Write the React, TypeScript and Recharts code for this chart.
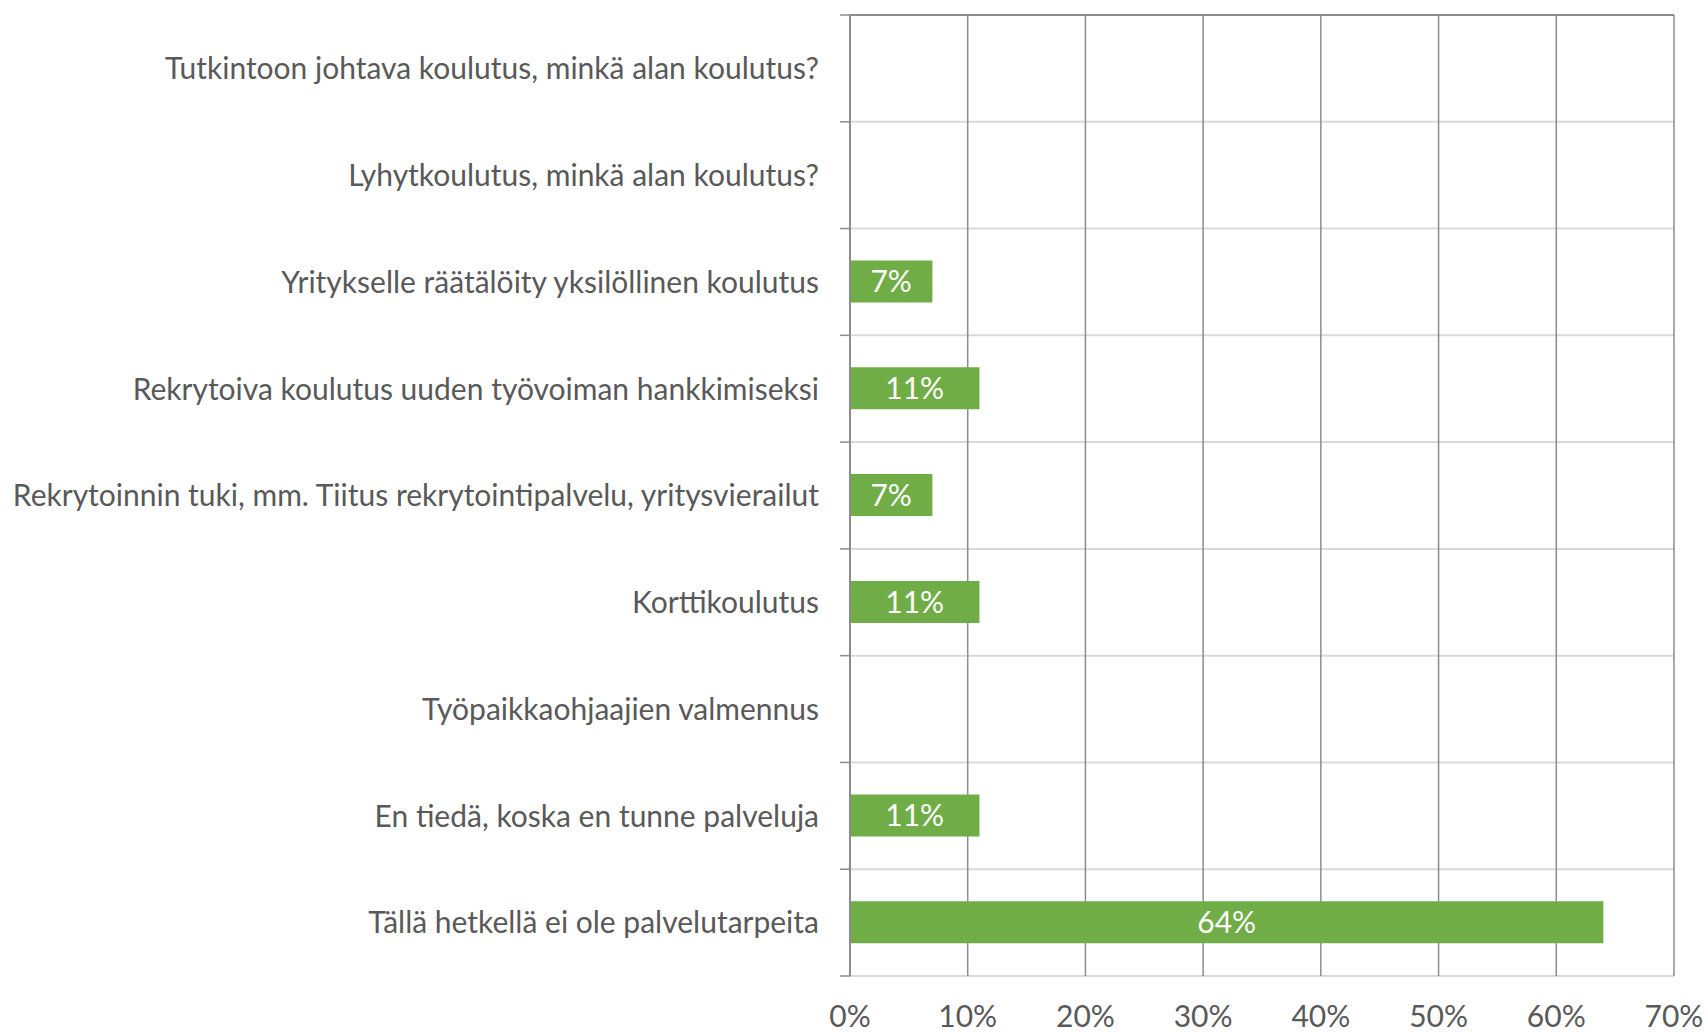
import React from 'react';
import {
  BarChart,
  Bar,
  XAxis,
  YAxis,
  CartesianGrid,
  LabelList,
} from 'recharts';

const categories = [
  'Tutkintoon johtava koulutus, minkä alan koulutus?',
  'Lyhytkoulutus, minkä alan koulutus?',
  'Yritykselle räätälöity yksilöllinen koulutus',
  'Rekrytoiva koulutus uuden työvoiman hankkimiseksi',
  'Rekrytoinnin tuki, mm. Tiitus rekrytointipalvelu, yritysvierailut',
  'Korttikoulutus',
  'Työpaikkaohjaajien valmennus',
  'En tiedä, koska en tunne palveluja',
  'Tällä hetkellä ei ole palvelutarpeita',
];

const shares = [0, 0, 7, 11, 7, 11, 0, 11, 64];

const percentTicks = [0, 10, 20, 30, 40, 50, 60, 70];

const data = categories.map((name, i) => ({ name, value: shares[i] }));

const W = 1708;
const H = 1032;
const MARGIN = { top: 6, right: 34, bottom: 6, left: 0 };
const TOP_AXIS_H = 9;
const BOTTOM_AXIS_H = 50;
const PLOT_TOP = MARGIN.top + TOP_AXIS_H;
const PLOT_H = H - MARGIN.top - MARGIN.bottom - TOP_AXIS_H - BOTTOM_AXIS_H;
const BAND = PLOT_H / categories.length;

const FONT = 'Lato, "Open Sans", sans-serif';
const FONT_SIZE = 30;
const TEXT = '#595959';
const DARK_LINE = '#8c8c8c';
const LIGHT_LINE = '#d9d9d9';

// category label + small tick mark at the band boundaries
const CategoryTick = ({ x, y, payload, index }: any) => (
  <g>
    <line x1={x - 10} x2={x} y1={y - BAND / 2} y2={y - BAND / 2} stroke={DARK_LINE} strokeWidth={1.5} />
    {index === categories.length - 1 && (
      <line x1={x - 10} x2={x} y1={y + BAND / 2} y2={y + BAND / 2} stroke={DARK_LINE} strokeWidth={1.5} />
    )}
    <text
      x={x - 31}
      y={y}
      dy="0.36em"
      textAnchor="end"
      fill={TEXT}
      fontSize={FONT_SIZE}
      fontFamily={FONT}
    >
      {payload.value}
    </text>
  </g>
);

export default function App() {
  return (
    <div style={{ position: 'absolute', left: 0, top: 0, background: '#fff' }}>
      <BarChart
        width={W}
        height={H}
        data={data}
        layout="vertical"
        margin={MARGIN}
        barSize={42}
      >
        <CartesianGrid
          stroke={LIGHT_LINE}
          strokeWidth={2}
          horizontalCoordinatesGenerator={() =>
            Array.from({ length: categories.length + 1 }, (_, i) => PLOT_TOP + i * BAND)
          }
          vertical={false}
        />
        <CartesianGrid
          stroke={DARK_LINE}
          strokeWidth={1.5}
          horizontal={false}
        />
        <XAxis
          type="number"
          domain={[0, 70]}
          ticks={percentTicks}
          tickFormatter={(v) => `${v}%`}
          axisLine={false}
          tickLine={false}
          tickSize={0}
          tickMargin={30}
          height={BOTTOM_AXIS_H}
          tick={{ fill: TEXT, fontSize: FONT_SIZE, fontFamily: FONT }}
          interval={0}
        />
        <XAxis
          xAxisId="top"
          orientation="top"
          type="number"
          domain={[0, 70]}
          ticks={percentTicks}
          tickFormatter={() => ''}
          axisLine={{ stroke: DARK_LINE, strokeWidth: 2 }}
          tickLine={{ stroke: DARK_LINE, strokeWidth: 1.5 }}
          tickSize={9}
          height={TOP_AXIS_H}
          interval={0}
        />
        <YAxis
          type="category"
          dataKey="name"
          width={850}
          axisLine={{ stroke: DARK_LINE, strokeWidth: 2 }}
          tickLine={false}
          tickSize={0}
          tickMargin={0}
          tick={<CategoryTick />}
          interval={0}
        />
        <Bar dataKey="value" fill="#70ad47" isAnimationActive={false}>
          <LabelList
            dataKey="value"
            position="center"
            formatter={(v: any) => (v ? `${v}%` : '')}
            fill="#ffffff"
            fontSize={FONT_SIZE}
            fontFamily={FONT}
          />
        </Bar>
      </BarChart>
    </div>
  );
}
